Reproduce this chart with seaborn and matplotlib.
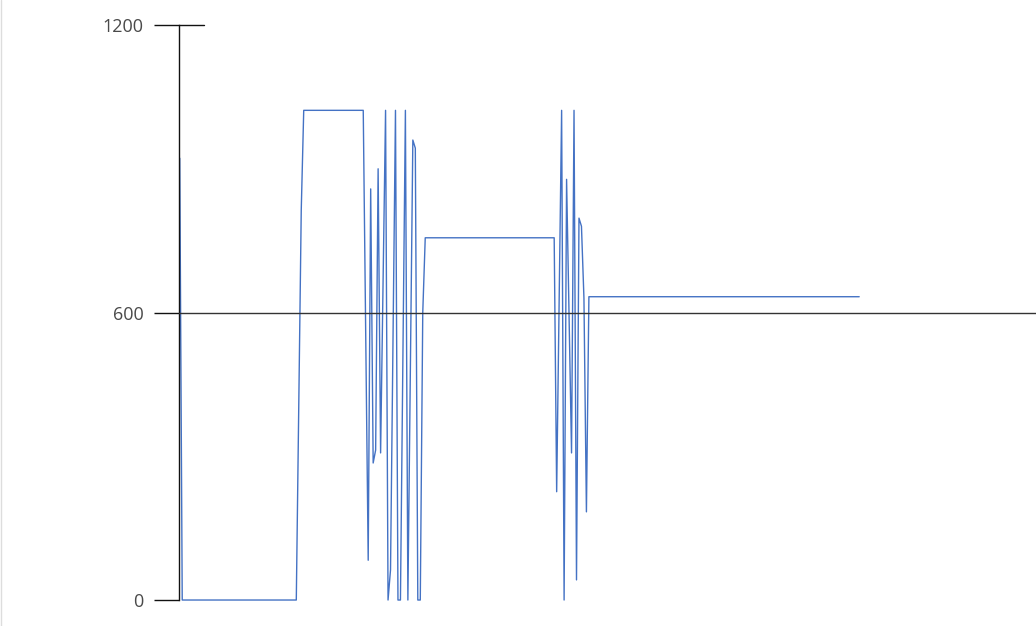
import numpy as np
import pandas as pd
import seaborn as sns
import matplotlib.pyplot as plt
from matplotlib.lines import Line2D

# sample index and value, vertices of the trace
idx = [0, 1, 47, 49, 50, 74, 76, 77, 78, 79, 80, 81, 83, 84, 85, 87, 88, 89,
       91, 92, 94, 95, 96, 97, 98, 99, 151, 152, 154, 155, 156, 158, 159, 160,
       161, 162, 163, 164, 165, 274]
vals = [922, 0, 0, 814, 1022, 1022, 83, 858, 286, 313, 900, 307, 1022, 0, 63, 1022, 0, 0,
        1022, 0, 960, 943, 0, 0, 600, 756, 756, 226, 1022, 0, 878, 307, 1022, 42,
        797, 780, 630, 184, 633, 633]
yticks = [0, 600, 1200]
ref_level = 600

df = pd.DataFrame({'t': idx, 'v': vals})

sns.set_style('white')
plt.rcParams['font.family'] = ['Open Sans', 'DejaVu Sans']

fig = plt.figure(figsize=(10.36, 6.26), dpi=100)
ax = fig.add_axes([0.1723, 0.0415, 0.8277, 0.9185])

sns.lineplot(data=df, x='t', y='v', ax=ax, color='#4472c4', linewidth=1.0,
             clip_on=False)

# reference line across the whole plot
ax.axhline(ref_level, color='#333333', linewidth=1, zorder=5)

ax.set_xlim(-0.5, 345.3)
ax.set_ylim(0, 1200)
ax.set_yticks(yticks)
ax.set_yticklabels([str(v) for v in yticks], color='#4a4a4a', fontsize=13)
ax.set_xticks([])
ax.set_xlabel(''); ax.set_ylabel('')
ax.tick_params(axis='y', left=True, direction='out', length=18, width=1,
               color='#111111', pad=7)

for s in ['top', 'right', 'bottom']:
    ax.spines[s].set_visible(False)
ax.spines['left'].set_color('#111111')
ax.spines['left'].set_linewidth(1)

# top tick runs past the spine to the right as well
ax.plot([0, 0.0302], [1, 1], transform=ax.transAxes, color='#111111',
        linewidth=1, clip_on=False)

# faint border at the left edge of the image
fig.add_artist(Line2D([0.0005, 0.0005], [0, 1], transform=fig.transFigure,
                      color='#dddddd', linewidth=1))

fig.savefig('out.png', dpi=100)
